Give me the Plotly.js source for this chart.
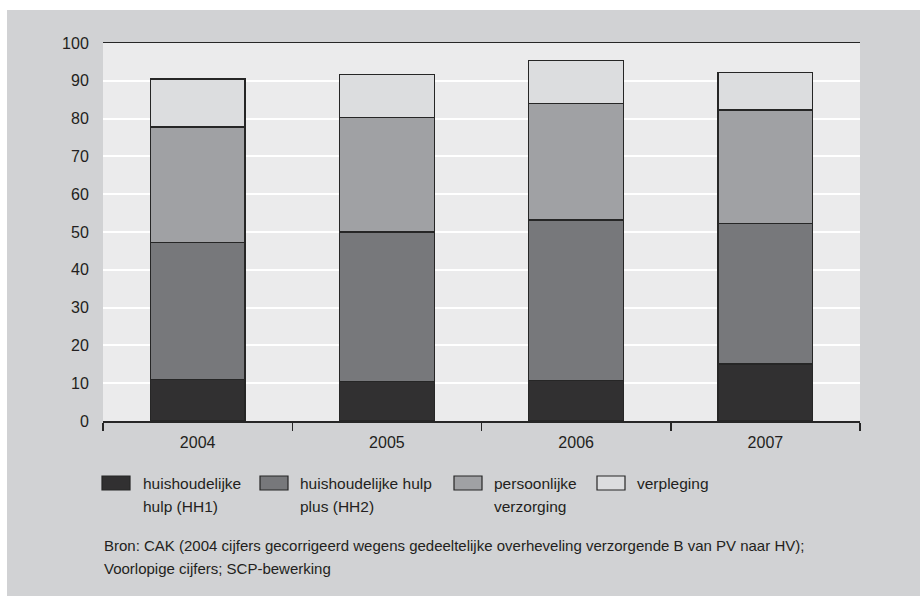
<!DOCTYPE html>
<html>
<head>
<meta charset="utf-8">
<script src="https://cdn.plot.ly/plotly-3.0.1.min.js"></script>
<style>
html,body{margin:0;padding:0;background:#ffffff;width:920px;height:596px;overflow:hidden;}
#chart{position:absolute;left:7px;top:10px;width:913px;height:586px;}
</style>
</head>
<body>
<div id="chart"></div>
<script>
// ---- data ----
var years = ['2004', '2005', '2006', '2007'];
var hh1 = [10.9, 10.4, 10.7, 15.1];
var hh2 = [36.3, 39.6, 42.5, 37.1];
var pv  = [30.6, 30.3, 30.7, 30.1];
var vp  = [12.7, 11.4, 11.5, 9.9];
var seriesNames = ['huishoudelijke<br>hulp (HH1)', 'huishoudelijke hulp<br>plus (HH2)', 'persoonlijke<br>verzorging', 'verpleging'];
var sourceText = 'Bron: CAK (2004 cijfers gecorrigeerd wegens gedeeltelijke overheveling verzorgende B van PV naar HV);<br>Voorlopige cijfers; SCP-bewerking';
var yTicks = [0, 10, 20, 30, 40, 50, 60, 70, 80, 90, 100];

// ---- styles ----
var colors = ['#313031', '#77787b', '#a0a1a4', '#dcdddf'];
var textFont = '"Liberation Sans", Arial, sans-serif';
var regular = '"Liberation Sans", Arial, sans-serif';
var values = [hh1, hh2, pv, vp];

var W = 913, H = 586;
var M = {l: 96, r: 60, t: 33, b: 175};
var pw = W - M.l - M.r, ph = H - M.t - M.b;
function px(x) { return (x - 7 - M.l) / pw; }          // page x -> paper
function py(y) { return (H - M.b - (y - 10)) / ph; }    // page y -> paper

var traces = values.map(function (v, i) {
  return {
    type: 'bar', x: years, y: v, name: seriesNames[i].replace('<br>', ' '),
    marker: {color: colors[i], line: {color: '#262626', width: 1.2}},
    hoverinfo: 'x+y+name'
  };
});

function lineAnn(text, x, yc, size) {
  return {xref: 'paper', yref: 'paper', x: px(x), y: py(yc),
    xanchor: 'left', yanchor: 'middle', align: 'left', showarrow: false,
    text: text, font: {family: textFont, size: size, color: '#231f20'}};
}

// custom legend
var legX = [102, 260, 454, 597];
var txtX = [141, 298, 492, 635];
var shapes = [], annotations = [];
for (var i = 0; i < seriesNames.length; i++) {
  shapes.push({type: 'rect', xref: 'paper', yref: 'paper',
    x0: px(legX[i]), x1: px(legX[i] + 28), y0: py(490), y1: py(476),
    fillcolor: colors[i], line: {color: '#262626', width: 1.2}});
  seriesNames[i].split('<br>').forEach(function (ln, k) {
    annotations.push(lineAnn(ln, txtX[i], 483 + 23 * k, 15.5));
  });
}
sourceText.split('<br>').forEach(function (ln, k) {
  annotations.push(lineAnn(ln, 102, 545 + 23 * k, 15));
});

var layout = {
  width: W, height: H,
  margin: M,
  paper_bgcolor: '#d1d2d4',
  plot_bgcolor: '#ebebec',
  barmode: 'stack',
  bargap: 0.5,
  showlegend: false,
  font: {family: regular, size: 16, color: '#231f20'},
  xaxis: {
    type: 'category', showline: true, mirror: true, linecolor: '#262626', linewidth: 1.5,
    ticks: 'outside', tickson: 'boundaries', ticklen: 8, tickwidth: 1.5, tickcolor: '#262626',
    ticklabelstandoff: 6,
    showgrid: false, tickfont: {family: regular, size: 16, color: '#231f20'}
  },
  yaxis: {
    range: [0, 100], tickvals: yTicks, showline: false, zeroline: false,
    showgrid: true, gridcolor: '#ffffff', gridwidth: 2,
    ticks: 'outside', ticklen: 10, tickcolor: 'rgba(0,0,0,0)',
    tickfont: {family: regular, size: 16, color: '#231f20'}
  },
  shapes: shapes,
  annotations: annotations
};

Plotly.newPlot('chart', traces, layout, {displayModeBar: false, staticPlot: true});
</script>
</body>
</html>
